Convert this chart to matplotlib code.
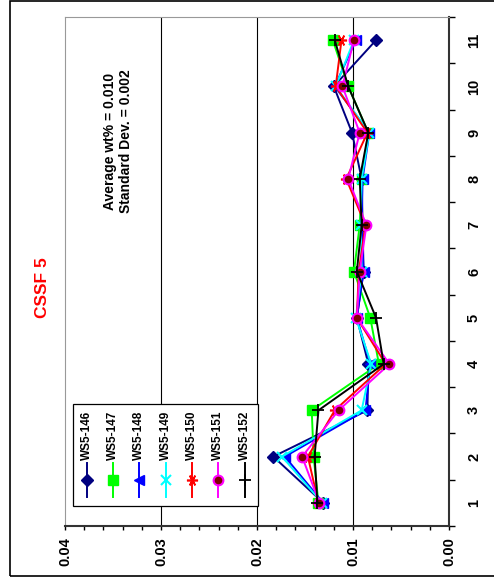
import matplotlib.pyplot as plt
from matplotlib.patches import Rectangle
from matplotlib.ticker import MultipleLocator, FixedLocator

plt.rcParams['font.family'] = ['Liberation Sans', 'DejaVu Sans']
plt.rcParams['font.weight'] = 'bold'

categories = [1, 2, 3, 4, 5, 6, 7, 8, 9, 10, 11]
names = ["WS5-146", "WS5-147", "WS5-148", "WS5-149", "WS5-150", "WS5-151", "WS5-152"]

ws5_146 = [0.0131, 0.0183, 0.0085, 0.0084, 0.0096, 0.0089, 0.0090, 0.0091, 0.0101, 0.0120, 0.0076]
ws5_147 = [0.0136, 0.0141, 0.0143, 0.0073, 0.0082, 0.0099, 0.0093, 0.0091, 0.0084, 0.0105, 0.0121]
ws5_148 = [0.0131, 0.0171, 0.0087, 0.0082, 0.0096, 0.0089, 0.0091, 0.0090, 0.0083, 0.0119, 0.0097]
ws5_149 = [0.0132, 0.0174, 0.0091, 0.0081, 0.0097, 0.0091, 0.0092, 0.0091, 0.0083, 0.0118, 0.0099]
ws5_150 = [0.0136, 0.0147, 0.0119, 0.0066, 0.0096, 0.0094, 0.0087, 0.0107, 0.0085, 0.0118, 0.0112]
ws5_151 = [0.0135, 0.0153, 0.0115, 0.0062, 0.0096, 0.0093, 0.0086, 0.0105, 0.0093, 0.0111, 0.0099]
ws5_152 = [0.0137, 0.0140, 0.0136, 0.0068, 0.0076, 0.0096, 0.0091, 0.0093, 0.0084, 0.0105, 0.0119]

series = [ws5_146, ws5_147, ws5_148, ws5_149, ws5_150, ws5_151, ws5_152]

# style per series (chart is rotated 90 deg, so markers are turned too)
styles = [
    dict(color="#000080", marker="D", ms=6, mfc="#000080", mec="#000080"),
    dict(color="#00FF00", marker="s", ms=6.5, mfc="#00FF00", mec="#00FF00"),
    dict(color="#0000FF", marker="<", ms=7, mfc="#0000FF", mec="#0000FF"),
    dict(color="#00FFFF", marker="x", ms=7, mfc="none", mec="#00FFFF", mew=1.5),
    dict(color="#FF0000", marker=(6, 2, 90), ms=8, mfc="none", mec="#FF0000", mew=1.2),
    dict(color="#FF00FF", marker="o", ms=7, mfc="#800000", mec="#FF00FF", mew=1.5),
    dict(color="#000000", marker="+", ms=9, mfc="none", mec="#000000", mew=1.3),
]

fig = plt.figure(figsize=(4.94, 5.82), dpi=100)
ax = fig.add_axes([65/494, 1-526/582, 384/494, 509/582])

# figure border
fig.patches.append(Rectangle((10/494, 1-576/582), 1.2, 575/582, transform=fig.transFigure,
                             fill=False, edgecolor="black", linewidth=1.2))

for vals, st in zip(series, styles):
    ax.plot(vals, categories, linewidth=1.4, zorder=3, **st)

ax.set_xlim(0.04, 0)
ax.set_ylim(0.5, 11.5)

for g in [0.01, 0.02, 0.03]:
    ax.axvline(g, color="black", linewidth=0.8, zorder=1)

ax.xaxis.set_minor_locator(MultipleLocator(0.002))
ax.set_xticks([0, 0.01, 0.02, 0.03, 0.04])
ax.set_xticklabels(["0.00", "0.01", "0.02", "0.03", "0.04"], rotation=90, fontsize=10.5, fontweight="bold")
ax.tick_params(axis="x", which="both", direction="out", length=3, width=1, pad=5)

ax.yaxis.tick_right()
ax.set_yticks(categories)
ax.set_yticklabels([str(c) for c in categories], rotation=90, fontsize=10.5, fontweight="bold", va="center")
ax.yaxis.set_minor_locator(FixedLocator([c + 0.5 for c in range(12)]))
ax.tick_params(axis="y", which="major", length=0, pad=13)
ax.tick_params(axis="y", which="minor", direction="out", length=4, width=1)

ax.spines["left"].set_color("#999999")
ax.spines["top"].set_color("#999999")
ax.spines["right"].set_color("#333333")
ax.spines["bottom"].set_color("#333333")
ax.spines["right"].set_linewidth(1.5)
ax.spines["bottom"].set_linewidth(1.5)

# rotated legend drawn by hand
W, H = 384.0, 509.0
ax.add_patch(Rectangle(((73-65)/W, (526-506)/H), 185/W, 102/H, transform=ax.transAxes,
                       facecolor="white", edgecolor="black", linewidth=0.9, zorder=4))
for i, (name, st) in enumerate(zip(names, styles)):
    xc = (86.7 + i*26.3 - 65) / W
    ax.plot([xc, xc], [(526-497)/H, (526-463)/H], transform=ax.transAxes, color=st["color"],
            linewidth=1.4, zorder=5, clip_on=False)
    ax.plot([xc], [(526-480)/H], transform=ax.transAxes, linestyle="none", zorder=6, clip_on=False,
            marker=st["marker"], ms=st["ms"], mfc=st["mfc"], mec=st["mec"], mew=st.get("mew", 1))
    ax.text(xc, (526-460)/H, name, transform=ax.transAxes, rotation=90, ha="center", va="bottom",
            fontsize=8.5, fontweight="bold", zorder=6)

ax.text((118-65)/W, (526-141)/H, "Average wt% = 0.010\nStandard Dev. = 0.002", transform=ax.transAxes,
        rotation=90, ha="center", va="center", fontsize=10, fontweight="bold", linespacing=1.25)

fig.text(42/494, 1-288/582, "CSSF 5", rotation=90, ha="center", va="center", color="#FF0000",
         fontsize=12.5, fontweight="bold")

plt.savefig("out.png", dpi=100)
